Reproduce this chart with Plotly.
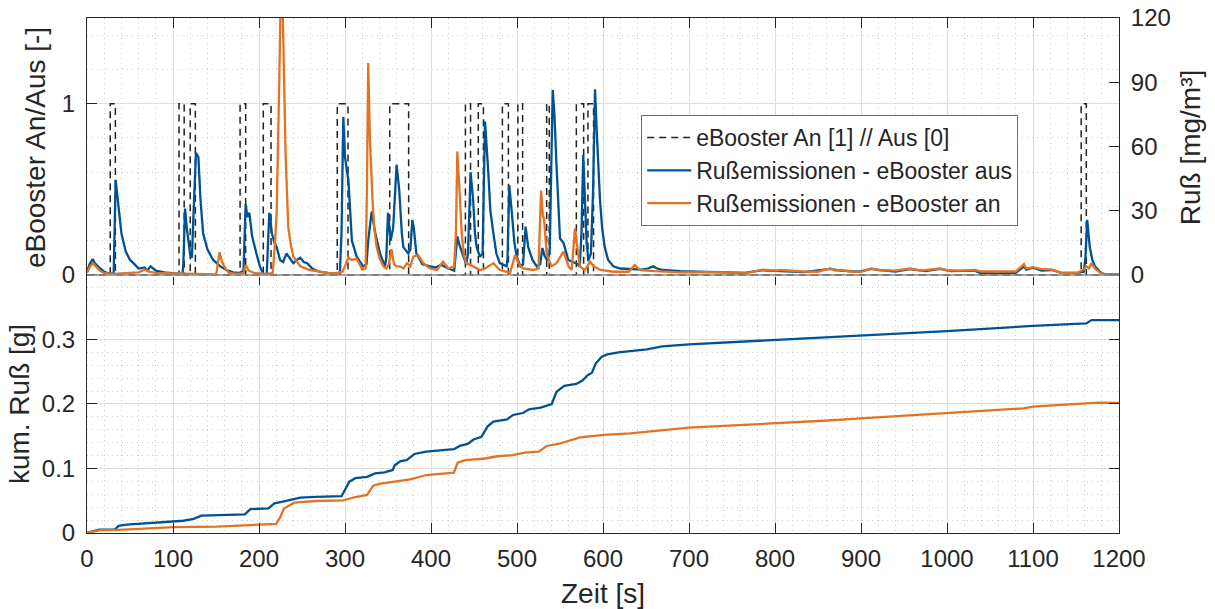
import plotly.graph_objects as go

# ---------------- data ----------------
# eBooster on/off switching times [s] and state after each switch
booster_t = [0, 27, 33, 107, 113, 120, 126, 178, 184.5, 205, 214, 291, 303.5,
             352, 374, 440, 446, 455, 461, 483, 490, 501, 506.5, 534.5, 537.5,
             569, 577.5, 582.5, 589, 1156, 1162, 1200]
booster_state = [0, 1, 0, 1, 0, 1, 0, 1, 0, 1, 0, 1, 0,
                 1, 0, 1, 0, 1, 0, 1, 0, 1, 0, 1, 0,
                 1, 0, 1, 0, 1, 0, 0]

# soot concentration [mg/m³], eBooster off
soot_off_t = [0, 3, 6.6, 9, 14, 20, 25, 30, 31, 33.3, 35, 37, 40, 45, 50, 54, 60, 67, 70, 74,
              80, 90, 100, 108, 111, 112, 114, 116, 119.8, 122, 124, 126.7, 129.5, 132, 135,
              140, 146.7, 155, 162, 170, 178, 182, 184.5, 186.5, 188.8, 192, 197, 201, 205,
              209, 210, 212, 213.5, 215, 218, 220.6, 224.5, 228, 232, 236, 240, 244, 248, 252,
              256, 262, 270, 280, 290, 294, 296, 298, 300, 302, 304, 306, 308, 313.6, 321, 325,
              327, 331, 333, 335, 340.7, 346.5, 348, 350, 353, 356, 360, 363, 366, 367.8, 373.6,
              376, 378.3, 380, 383, 390, 399, 405, 412, 420, 427, 430.6, 433, 437.6, 441, 443,
              446, 449, 451, 453, 457, 460, 462.8, 466.7, 469, 472.5, 476, 480, 488, 489, 491,
              494, 497, 499.6, 504, 507, 510, 513, 518, 523, 527, 529.5, 532, 535, 538, 541.5,
              543.5, 546, 548, 550, 554, 559.7, 565, 569, 573, 575, 577, 579, 581, 583, 586,
              588.5, 590.7, 593, 596.5, 599, 602, 606, 612, 620, 631, 645, 652, 658.5, 663, 670,
              690, 720, 765, 786, 801, 806, 833, 864, 876, 898, 912, 922, 940, 957, 975, 992,
              1005, 1032, 1040, 1060, 1080, 1089.5, 1092, 1100, 1110, 1122, 1133, 1152, 1159,
              1161, 1163, 1166, 1169, 1172, 1179, 1185, 1200]
soot_off = [1.5, 5, 7.4, 5.5, 3.5, 1.5, 0.8, 0.3, 0.5, 44.4, 38, 28, 19.5, 11, 7, 5.5, 3, 3.5, 2, 4,
            2, 1.2, 1, 0.5, 0.3, 5, 31, 22, 10, 8, 30, 57, 55, 35, 19.5,
            12, 7, 4, 2.3, 1.2, 1, 2, 33, 27, 29, 18, 10, 4, 0.5,
            0.3, 10, 29, 25, 19.5, 15, 13, 7, 6, 10, 8, 5.5, 7, 8, 6,
            5.5, 3, 1.5, 1, 0.5, 0.5, 20, 73.8, 55, 50, 44, 30, 16, 8.5, 4, 5,
            16, 29.6, 24, 20, 10, 4, 8, 29, 16, 22, 51.4, 40, 20, 13, 10,
            12, 25.7, 22, 10, 5, 4, 3.5, 4.7, 3, 2, 18, 14, 8.5, 5, 10,
            48, 35, 20, 13, 8.5, 10, 71.6, 47.5, 30, 19.5, 10, 5.5, 4, 8, 42,
            29, 15, 8.5, 4, 5, 22.6, 13, 7, 4, 5, 12.6, 9, 7, 10, 86.4,
            75, 50.6, 30, 17, 15, 7, 6, 5.5, 4, 20, 56, 35, 15, 7, 10,
            40, 86.7, 64.6, 35, 22, 13, 7, 4, 3, 2.7, 2.5, 3, 4, 3, 2.3,
            1.8, 1.5, 1, 2.2, 1.8, 2, 1.3, 2.8, 2, 1.5, 2.8, 2.2, 1.6, 2.7, 1.8, 2.8,
            1.8, 2, 0.8, 0.7, 1, 4, 2.5, 3.4, 2, 2.3, 1, 1, 1.5,
            8, 25.7, 13, 7, 4, 1, 0.2, 0.1]

# soot concentration [mg/m³], eBooster on
soot_on_t = [0, 3, 6.6, 10, 15, 20, 30, 50, 60, 67, 72, 80, 100, 120, 140, 150, 151, 154, 157,
             161, 165, 175, 182, 184.5, 188, 195, 210, 216, 218.6, 220.6, 223.6, 225, 227.5,
             229.5, 231, 234, 237, 240, 248, 259, 270, 280, 290, 297, 300, 304, 308, 313.6,
             317, 320, 324, 325.5, 327, 329, 332, 334, 336.8, 340, 344.6, 348, 351, 354, 357,
             360, 364, 368, 372, 376, 379.5, 385, 391, 399, 407, 414, 420, 427, 429, 430.6,
             433, 435.7, 438, 441, 449, 457, 463, 468.6, 472.5, 480, 492, 497.7, 501.6, 507,
             519, 525, 528, 530, 531.5, 534.5, 540, 546, 554, 560, 563.6, 567.4, 570, 573,
             579, 585, 589, 597, 612, 630, 637, 643, 660, 690, 720, 768, 786, 801, 806, 820,
             833, 850, 864, 870, 876, 890, 900, 912, 922, 940, 957, 970, 992, 1000, 1015,
             1032.6, 1040, 1060, 1080, 1089.5, 1092, 1100, 1108, 1122, 1133, 1152, 1159, 1162,
             1165, 1168, 1172, 1178, 1185, 1200]
soot_on = [1, 3.5, 5.5, 4, 2, 0.8, 0.5, 1, 1.2, 2.5, 1.5, 1, 0.8, 0.5, 0.3, 0.3, 2, 10.6, 6,
           3, 1, 0.5, 0.8, 4.7, 2, 0.8, 0.5, 1, 15, 30, 91, 125, 125,
           92, 55, 22.6, 14, 8.5, 4, 2.3, 1.5, 1, 0.8, 1.5, 4, 8, 7, 7.5,
           5, 2.5, 3, 40, 99, 63, 35, 22, 13, 8, 4, 3, 5, 12, 5,
           4, 4, 3, 5.5, 4, 8.5, 9.3, 5.5, 3, 2.3, 6.2, 3, 4, 20, 57.6,
           41, 19.5, 10, 5.5, 4, 2.3, 3, 4.7, 5.5, 2.3, 1, 9.3, 5.5, 3,
           2.3, 3, 39.4, 28, 26, 10, 4, 5.5, 10.9, 4, 2.3, 21.8, 13, 4,
           2.3, 6.2, 4, 2.3, 1.5, 1.5, 4.7, 2.3, 1.8, 1.2, 1.3, 1, 2.5, 2, 2.3, 1.8,
           1.6, 1.5, 3, 2, 2.3, 1.5, 1.4, 3, 2.2, 2, 3, 2, 3, 2.2, 2,
           2.3, 1.6, 1.6, 1.6, 5, 3, 3.6, 2.8, 2.5, 1, 1, 2.7, 4,
           3, 5.5, 3, 1, 0.2, 0.1]

# cumulative soot [g]
cum_off_t = [0, 13.8, 32, 36.7, 46, 82.6, 112, 124, 133, 183.5, 190, 211, 218, 229, 248, 266, 296,
             305, 312, 325.7, 335, 346, 355.5, 357.8, 364.7, 371.6, 380.7, 394.5, 426.6, 433.5,
             442.7, 449.5, 458.7, 465.6, 472.5, 488.5, 495.4, 507, 514, 527.5, 536.7, 540.4, 546,
             555, 569, 575.7, 582.6, 587, 591.7, 598.6, 605, 618, 651, 669, 700, 800, 900, 1000,
             1100, 1162, 1168, 1200]
cum_off = [0, 0.005, 0.005, 0.011, 0.013, 0.016, 0.019, 0.022, 0.027, 0.029, 0.037, 0.038, 0.046,
           0.049, 0.055, 0.056, 0.057, 0.0796, 0.085, 0.087, 0.0925, 0.094, 0.0977, 0.105, 0.1116,
           0.113, 0.1225, 0.126, 0.130, 0.135, 0.138, 0.145, 0.149, 0.165, 0.1726, 0.176, 0.183,
           0.186, 0.1917, 0.1943, 0.1984, 0.200, 0.219, 0.228, 0.231, 0.236, 0.245, 0.248, 0.263,
           0.2734, 0.277, 0.280, 0.2848, 0.2894, 0.2925, 0.299, 0.3054, 0.313, 0.321, 0.325,
           0.330, 0.330]

cum_on_t = [0, 13.8, 37, 101, 151, 197, 220, 224.8, 229, 241, 266, 298, 312, 325.7, 332.6, 339.4,
            357.8, 376, 394.5, 426.6, 431, 440, 463, 477, 495, 509, 525.2, 534.4, 548, 559.6,
            566.5, 573.4, 601, 632, 700, 765, 800, 856, 900, 1000, 1089, 1100, 1144, 1176, 1200]
cum_on = [0, 0.004, 0.005, 0.009, 0.010, 0.012, 0.014, 0.025, 0.038, 0.047, 0.0496, 0.0506,
          0.0558, 0.059, 0.0729, 0.076, 0.079, 0.083, 0.0899, 0.0935, 0.109, 0.113, 0.1155, 0.119,
          0.1206, 0.1245, 0.126, 0.1349, 0.138, 0.1426, 0.1452, 0.1483, 0.152, 0.1545, 0.1633,
          0.1674, 0.170, 0.174, 0.1778, 0.1855, 0.1933, 0.1958, 0.200, 0.202, 0.2016]

x_ticks = list(range(0, 1201, 100))
left_ticks = [0, 1]
right_ticks = [0, 30, 60, 90, 120]
cum_ticks = [0, 0.1, 0.2, 0.3]
cum_ticktext = ["0", "0.1", "0.2", "0.3"]

# ---------------- style ----------------
BLUE = "#005293"
ORANGE = "#E37222"
DARK = "#262626"
GRID = "#dedede"
MINOR = "#cdcdcd"
FONT = "Liberation Sans, Arial, sans-serif"
TICKF = 24
TITLEF = 28
DOTS = "1px,4px"

fig = go.Figure()

fig.add_trace(go.Scatter(x=booster_t, y=booster_state, mode="lines", line_shape="hv",
                         line=dict(color="#222222", width=1.5, dash="7px,5px"),
                         name="eBooster An [1] // Aus [0]", xaxis="x2", yaxis="y"))
fig.add_trace(go.Scatter(x=soot_off_t, y=soot_off, mode="lines",
                         line=dict(color=BLUE, width=2.3),
                         name="Rußemissionen - eBooster aus", xaxis="x2", yaxis="y2"))
fig.add_trace(go.Scatter(x=soot_on_t, y=soot_on, mode="lines",
                         line=dict(color=ORANGE, width=2.3),
                         name="Rußemissionen - eBooster an", xaxis="x2", yaxis="y2"))
fig.add_trace(go.Scatter(x=cum_off_t, y=cum_off, mode="lines",
                         line=dict(color=BLUE, width=2.3), showlegend=False,
                         xaxis="x", yaxis="y3"))
fig.add_trace(go.Scatter(x=cum_on_t, y=cum_on, mode="lines",
                         line=dict(color=ORANGE, width=2.3), showlegend=False,
                         xaxis="x", yaxis="y3"))
# helper axis carrying the tick marks on top of the lower panel
fig.add_trace(go.Scatter(x=[], y=[], showlegend=False, xaxis="x3", yaxis="y3", hoverinfo="skip"))

top_dom = [0.4971, 1.0]
bot_dom = [0.0, 0.501]

minor_x = dict(dtick=20, showgrid=True, gridcolor=MINOR, griddash=DOTS, ticks="")

fig.update_layout(
    width=1215, height=609,
    margin=dict(l=87, r=96, t=18, b=76),
    paper_bgcolor="white", plot_bgcolor="white",
    font=dict(family=FONT, color=DARK, size=TICKF),
    showlegend=True,
    legend=dict(x=0.537, y=0.8117, xanchor="left", yanchor="top",
                bgcolor="white", bordercolor="#6e6e6e", borderwidth=1,
                font=dict(size=23, color=DARK), tracegroupgap=0, itemwidth=44),
    xaxis=dict(domain=[0, 1], anchor="y3", range=[0, 1200], tickvals=x_ticks, automargin=False,
               ticks="inside", ticklen=10, tickcolor=DARK, showline=True, linecolor=DARK,
               linewidth=1, showgrid=True, gridcolor=GRID, zeroline=False,
               minor=minor_x, tickfont=dict(size=TICKF), ticklabelstandoff=4,
               title=dict(text="Zeit [s]", font=dict(size=TITLEF), standoff=14)),
    xaxis3=dict(overlaying="x", anchor="y3", side="top", range=[0, 1200], tickvals=x_ticks,
                automargin=False,
                ticks="inside", ticklen=10, tickcolor=DARK, showline=False,
                showticklabels=False, showgrid=False, zeroline=False),
    xaxis2=dict(domain=[0, 1], anchor="y", side="top", range=[0, 1200], tickvals=x_ticks,
                automargin=False,
                ticks="inside", ticklen=10, tickcolor=DARK, showline=True, linecolor=DARK,
                linewidth=1, showticklabels=False, showgrid=True, gridcolor=GRID,
                zeroline=False, minor=minor_x),
    yaxis=dict(domain=top_dom, anchor="x2", range=[-0.012, 1.5], tickvals=left_ticks,
               automargin=False,
               ticks="inside", ticklen=10, tickcolor=DARK, showline=True, linecolor=DARK,
               linewidth=1, showgrid=True, gridcolor=GRID, zeroline=False,
               minor=dict(dtick=0.2, showgrid=True, gridcolor=MINOR, griddash=DOTS, ticks=""),
               tickfont=dict(size=TICKF), ticklabelstandoff=6,
               title=dict(text="eBooster An/Aus [-]", font=dict(size=TITLEF), standoff=8)),
    yaxis2=dict(overlaying="y", side="right", anchor="x2", range=[-0.96, 120],
                automargin=False,
                tickvals=right_ticks, ticks="inside", ticklen=10, tickcolor=DARK,
                showline=True, linecolor=DARK, linewidth=1, showgrid=False, zeroline=False,
                tickfont=dict(size=TICKF), ticklabelstandoff=6,
                title=dict(text="Ruß [mg/m³]", font=dict(size=TITLEF), standoff=10)),
    yaxis3=dict(domain=bot_dom, anchor="x", range=[0, 0.4], tickvals=cum_ticks,
                automargin=False,
                ticktext=cum_ticktext, ticks="inside", ticklen=10, tickcolor=DARK,
                showline=True, linecolor=DARK, linewidth=1, mirror="ticks",
                showgrid=True, gridcolor=GRID, zeroline=False,
                minor=dict(dtick=0.02, showgrid=True, gridcolor=MINOR, griddash=DOTS, ticks=""),
                tickfont=dict(size=TICKF), ticklabelstandoff=6,
                title=dict(text="kum. Ruß [g]", font=dict(size=TITLEF), standoff=4)),
    shapes=[dict(type="line", xref="x2 domain", yref="y", x0=0, x1=1, y0=0, y1=0,
                 line=dict(color="#8c8c8c", width=1.5), layer="above")],
)

fig.write_html("out.html")
